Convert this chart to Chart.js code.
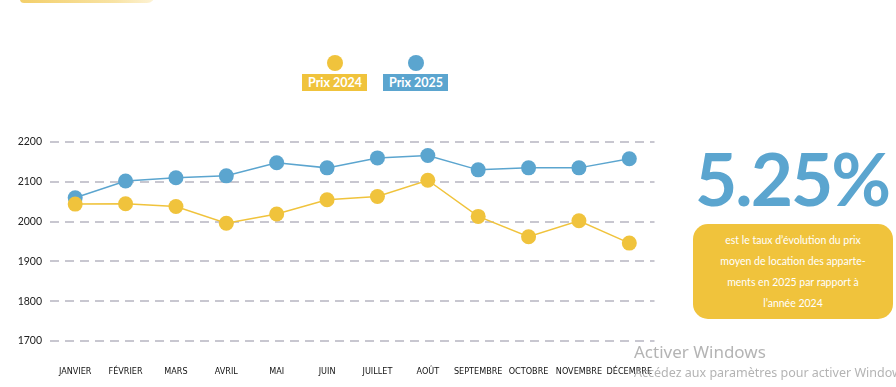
<!DOCTYPE html>
<html>
<head>
<meta charset="utf-8">
<script src="https://cdn.jsdelivr.net/npm/chart.js@4.4.1/dist/chart.umd.min.js"></script>
<style>
    html, body { margin: 0; padding: 0; background: #fff; }
    body { width: 896px; height: 387px; position: relative; overflow: hidden; font-family: 'Lato', sans-serif; }
    #wrap { position: absolute; left: 0; top: 120px; width: 662px; height: 267px; }
    .swoosh { position: absolute; left: 20px; top: -5px; width: 135px; height: 8px; border-radius: 0 0 60px 30px;
              background: linear-gradient(90deg, #f3cf6a, #f8e3a4 70%, #fdf3d6); }
    .legend-item { position: absolute; top: 55px; }
    .legend-dot { width: 16px; height: 16px; border-radius: 50%; margin: 0 auto 3px; }
    .legend-label { color: #fff; font-weight: 700; font-size: 12.5px; padding: 1px 5px 1px 6px; line-height: 15px; white-space: nowrap; }
    .big { position: absolute; left: 695px; top: 138px; font-size: 73px; font-weight: 700; color: #5ba5cf; letter-spacing: -2px; line-height: 80px; }
    .note { position: absolute; left: 693px; top: 224px; width: 200px; height: 95px; background: #f0c33c; border-radius: 15px;
            color: #fff; font-size: 10.5px; line-height: 21px; text-align: center; box-sizing: border-box; padding-top: 6px; }
    .wm1 { position: absolute; left: 634px; top: 340px; font-family: 'Noto Sans', sans-serif; font-size: 17px; color: #b4b4b4; white-space: nowrap; }
    .wm2 { position: absolute; left: 634px; top: 364px; font-family: 'Noto Sans', sans-serif; font-size: 12.5px; color: #b4b4b4; white-space: nowrap; }
</style>
</head>
<body>
<div class="swoosh"></div>
<div class="legend-item" style="left:302px">
    <div class="legend-dot" style="background:#f0c33c"></div>
    <div class="legend-label" style="background:#f0c33c">Prix 2024</div>
</div>
<div class="legend-item" style="left:383px">
    <div class="legend-dot" style="background:#5ba5cf"></div>
    <div class="legend-label" style="background:#5ba5cf">Prix 2025</div>
</div>
<div id="wrap"><canvas id="priceChart"></canvas></div>
<div class="big">5.25%</div>
<div class="note">est le taux d’évolution du prix<br>moyen de location des apparte-<br>ments en 2025 par rapport à<br>l’année 2024</div>
<div class="wm1">Activer Windows</div>
<div class="wm2">Accédez aux paramètres pour activer Windows.</div>
<script>
// Months and monthly average rent
const months = ['JANVIER', 'FÉVRIER', 'MARS', 'AVRIL', 'MAI', 'JUIN', 'JUILLET', 'AOÛT', 'SEPTEMBRE', 'OCTOBRE', 'NOVEMBRE', 'DÉCEMBRE'];
const prix2024 = [2044, 2045, 2038, 1996, 2019, 2055, 2063, 2104, 2013, 1962, 2002, 1946];
const prix2025 = [2060, 2102, 2110, 2115, 2148, 2135, 2160, 2166, 2130, 2135, 2135, 2158];
const yTicks = [1700, 1800, 1900, 2000, 2100, 2200];

const YELLOW = '#f0c33c';
const BLUE = '#5ba5cf';

const ctx = document.getElementById('priceChart');
new Chart(ctx, {
    type: 'line',
    data: {
        labels: months,
        datasets: [
            {
                label: 'Prix 2024',
                data: prix2024,
                borderColor: YELLOW,
                backgroundColor: YELLOW,
                borderWidth: 1.5,
                pointRadius: 7.5,
                pointBorderWidth: 0,
                tension: 0
            },
            {
                label: 'Prix 2025',
                data: prix2025,
                borderColor: BLUE,
                backgroundColor: BLUE,
                borderWidth: 1.5,
                pointRadius: 7.5,
                pointBorderWidth: 0,
                tension: 0
            }
        ]
    },
    options: {
        responsive: true,
        maintainAspectRatio: false,
        animation: false,
        clip: false,
        layout: { padding: { top: 22, right: 2, left: 0, bottom: 0 } },
        plugins: {
            legend: { display: false },
            tooltip: { enabled: false }
        },
        scales: {
            x: {
                offset: true,
                grid: { display: false },
                border: { display: false },
                ticks: { color: '#111', font: { family: "'DejaVu Sans Condensed', 'DejaVu Sans', sans-serif", size: 9 }, padding: 17, maxRotation: 0, autoSkip: false },
                afterFit: (scale) => { scale.height = 46; scale.paddingLeft = 0; scale.paddingRight = 0; }
            },
            y: {
                min: 1700,
                max: 2200,
                afterBuildTicks: (scale) => { scale.ticks = yTicks.map(v => ({ value: v })); },
                grid: { color: '#c8c7d0', lineWidth: 2, drawTicks: false },
                border: { display: false, dash: [9, 6] },
                ticks: { color: '#222', font: { family: "'Lato', sans-serif", size: 10.5 }, padding: 8, callback: (v) => String(v) },
                afterFit: (scale) => { scale.width = 50; }
            }
        }
    }
});
</script>
</body>
</html>
